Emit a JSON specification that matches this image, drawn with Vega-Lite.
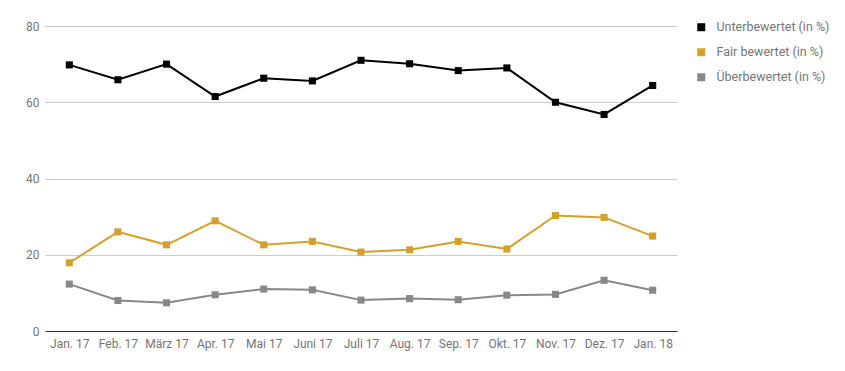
{
  "$schema": "https://vega.github.io/schema/vega-lite/v6.json",
  "autosize": {"type": "none"},
  "width": 632,
  "height": 305,
  "padding": {"left": 45, "top": 26, "right": 168, "bottom": 40},
  "background": "white",
  "config": {
    "font": "Roboto",
    "view": {"stroke": null}
  },
  "data": {
    "values": [
      {"monat": "Jan. 17", "serie": "Unterbewertet (in %)", "wert": 69.8},
      {"monat": "Feb. 17", "serie": "Unterbewertet (in %)", "wert": 65.9},
      {"monat": "März 17", "serie": "Unterbewertet (in %)", "wert": 70.0},
      {"monat": "Apr. 17", "serie": "Unterbewertet (in %)", "wert": 61.5},
      {"monat": "Mai 17", "serie": "Unterbewertet (in %)", "wert": 66.3},
      {"monat": "Juni 17", "serie": "Unterbewertet (in %)", "wert": 65.6},
      {"monat": "Juli 17", "serie": "Unterbewertet (in %)", "wert": 71.0},
      {"monat": "Aug. 17", "serie": "Unterbewertet (in %)", "wert": 70.1},
      {"monat": "Sep. 17", "serie": "Unterbewertet (in %)", "wert": 68.3},
      {"monat": "Okt. 17", "serie": "Unterbewertet (in %)", "wert": 69.0},
      {"monat": "Nov. 17", "serie": "Unterbewertet (in %)", "wert": 60.0},
      {"monat": "Dez. 17", "serie": "Unterbewertet (in %)", "wert": 56.8},
      {"monat": "Jan. 18", "serie": "Unterbewertet (in %)", "wert": 64.4},
      {"monat": "Jan. 17", "serie": "Fair bewertet (in %)", "wert": 17.9},
      {"monat": "Feb. 17", "serie": "Fair bewertet (in %)", "wert": 26.0},
      {"monat": "März 17", "serie": "Fair bewertet (in %)", "wert": 22.6},
      {"monat": "Apr. 17", "serie": "Fair bewertet (in %)", "wert": 28.9},
      {"monat": "Mai 17", "serie": "Fair bewertet (in %)", "wert": 22.6},
      {"monat": "Juni 17", "serie": "Fair bewertet (in %)", "wert": 23.5},
      {"monat": "Juli 17", "serie": "Fair bewertet (in %)", "wert": 20.7},
      {"monat": "Aug. 17", "serie": "Fair bewertet (in %)", "wert": 21.3},
      {"monat": "Sep. 17", "serie": "Fair bewertet (in %)", "wert": 23.5},
      {"monat": "Okt. 17", "serie": "Fair bewertet (in %)", "wert": 21.5},
      {"monat": "Nov. 17", "serie": "Fair bewertet (in %)", "wert": 30.3},
      {"monat": "Dez. 17", "serie": "Fair bewertet (in %)", "wert": 29.8},
      {"monat": "Jan. 18", "serie": "Fair bewertet (in %)", "wert": 24.9},
      {"monat": "Jan. 17", "serie": "Überbewertet (in %)", "wert": 12.3},
      {"monat": "Feb. 17", "serie": "Überbewertet (in %)", "wert": 8.0},
      {"monat": "März 17", "serie": "Überbewertet (in %)", "wert": 7.4},
      {"monat": "Apr. 17", "serie": "Überbewertet (in %)", "wert": 9.5},
      {"monat": "Mai 17", "serie": "Überbewertet (in %)", "wert": 11.0},
      {"monat": "Juni 17", "serie": "Überbewertet (in %)", "wert": 10.8},
      {"monat": "Juli 17", "serie": "Überbewertet (in %)", "wert": 8.1},
      {"monat": "Aug. 17", "serie": "Überbewertet (in %)", "wert": 8.5},
      {"monat": "Sep. 17", "serie": "Überbewertet (in %)", "wert": 8.2},
      {"monat": "Okt. 17", "serie": "Überbewertet (in %)", "wert": 9.4},
      {"monat": "Nov. 17", "serie": "Überbewertet (in %)", "wert": 9.6},
      {"monat": "Dez. 17", "serie": "Überbewertet (in %)", "wert": 13.3},
      {"monat": "Jan. 18", "serie": "Überbewertet (in %)", "wert": 10.7}
    ]
  },
  "encoding": {
    "x": {
      "field": "monat",
      "type": "ordinal",
      "sort": null,
      "scale": {"type": "point", "padding": 0.5},
      "axis": {
        "title": null,
        "labelAngle": 0,
        "labelColor": "#757575",
        "labelFont": "Roboto",
        "labelFontSize": 12,
        "labelPadding": 7,
        "ticks": false,
        "domain": true,
        "domainColor": "#333333",
        "domainWidth": 1,
        "grid": false
      }
    },
    "y": {
      "field": "wert",
      "type": "quantitative",
      "scale": {"domain": [0, 80], "nice": false},
      "axis": {
        "title": null,
        "values": [0, 20, 40, 60, 80],
        "labelColor": "#757575",
        "labelFont": "Roboto",
        "labelFontSize": 12,
        "labelPadding": 6,
        "ticks": false,
        "domain": false,
        "grid": true,
        "gridColor": "#cccccc",
        "gridWidth": 1
      }
    },
    "color": {
      "field": "serie",
      "type": "nominal",
      "scale": {
        "domain": ["Unterbewertet (in %)", "Fair bewertet (in %)", "Überbewertet (in %)"],
        "range": ["#000000", "#d4a02b", "#87888a"]
      },
      "legend": {
        "title": null,
        "orient": "none",
        "legendX": 650,
        "legendY": -5,
        "symbolType": "square",
        "symbolSize": 64,
        "symbolStrokeWidth": 0,
        "rowPadding": 12,
        "labelColor": "#757575",
        "labelFont": "Roboto",
        "labelFontSize": 12.5,
        "labelOffset": 9
      }
    }
  },
  "layer": [
    {"mark": {"type": "line", "strokeWidth": 2}},
    {"mark": {"type": "point", "shape": "square", "filled": true, "size": 50, "opacity": 1}}
  ]
}
